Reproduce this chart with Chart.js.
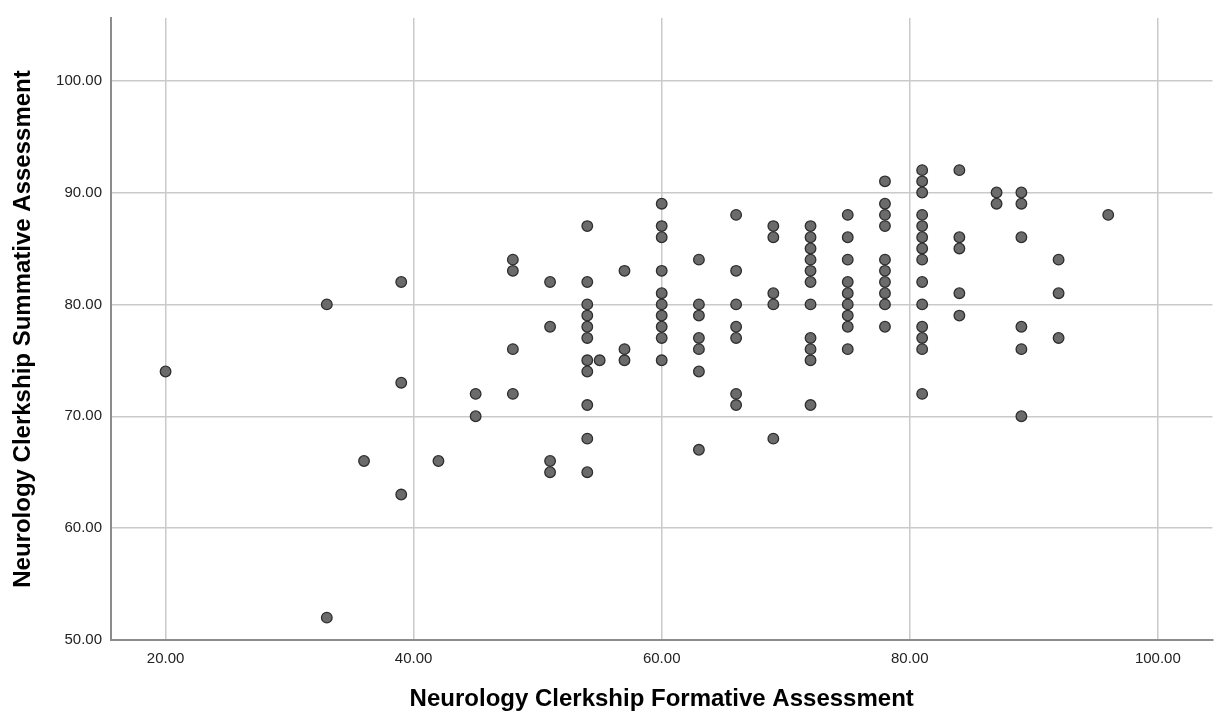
<!DOCTYPE html>
<html>
<head>
<meta charset="utf-8">
<script src="https://cdn.jsdelivr.net/npm/chart.js@4"></script>
<style>
    html, body { margin: 0; padding: 0; background: #ffffff; }
    #wrap { width: 1219px; height: 717px; position: relative; }
</style>
</head>
<body>
<div id="wrap"><canvas id="scatterChart"></canvas></div>
<script>
// formative score (x) and summative score (y), one entry per student
const formativeScores = [
    20,
    33, 33,
    36,
    39, 39, 39,
    42,
    45, 45,
    48, 48, 48, 48,
    51, 51, 51, 51,
    54, 54, 54, 54, 54, 54, 54, 54, 54, 54, 54,
    55,
    57, 57, 57,
    60, 60, 60, 60, 60, 60, 60, 60, 60, 60,
    63, 63, 63, 63, 63, 63, 63,
    66, 66, 66, 66, 66, 66, 66,
    69, 69, 69, 69, 69,
    72, 72, 72, 72, 72, 72, 72, 72, 72, 72, 72,
    75, 75, 75, 75, 75, 75, 75, 75, 75,
    78, 78, 78, 78, 78, 78, 78, 78, 78, 78,
    81, 81, 81, 81, 81, 81, 81, 81, 81, 81, 81, 81, 81, 81,
    84, 84, 84, 84, 84,
    87, 87,
    89, 89, 89, 89, 89, 89,
    92, 92, 92,
    96
];
const summativeScores = [
    74,
    80, 52,
    66,
    82, 73, 63,
    66,
    72, 70,
    84, 83, 76, 72,
    82, 78, 66, 65,
    87, 82, 80, 79, 78, 77, 75, 74, 71, 68, 65,
    75,
    83, 76, 75,
    89, 87, 86, 83, 81, 80, 79, 78, 77, 75,
    84, 80, 79, 77, 76, 74, 67,
    88, 83, 80, 78, 77, 72, 71,
    87, 86, 81, 80, 68,
    87, 86, 85, 84, 83, 82, 80, 77, 76, 75, 71,
    88, 86, 84, 82, 81, 80, 79, 78, 76,
    91, 89, 88, 87, 84, 83, 82, 81, 80, 78,
    92, 91, 90, 88, 87, 86, 85, 84, 82, 80, 78, 77, 76, 72,
    92, 86, 85, 81, 79,
    90, 89,
    90, 89, 86, 78, 76, 70,
    84, 81, 77,
    88
];

const xTicks = [20, 40, 60, 80, 100];
const yTicks = [50, 60, 70, 80, 90, 100];

const xTitle = 'Neurology Clerkship Formative Assessment';
const yTitle = 'Neurology Clerkship Summative Assessment';

let points = [];
for (let i = 0; i < formativeScores.length; i++) {
    points.push({x: formativeScores[i], y: summativeScores[i]});
}

const fontFamily = '"Liberation Sans", Arial, sans-serif';

window.config = {
    type: 'scatter',
    data: {
        datasets: [{
            data: points,
            backgroundColor: '#6b6b6b',
            borderColor: '#2e2e2e',
            borderWidth: 1.3,
            pointRadius: 5.3,
            pointHoverRadius: 5.3,
        }]
    },
    options: {
        responsive: true,
        maintainAspectRatio: false,
        animation: false,
        layout: {
            padding: {top: 6, right: 0, bottom: 0, left: 0}
        },
        plugins: {
            legend: { display: false },
            tooltip: { enabled: false },
        },
        scales: {
            x: {
                type: 'linear',
                min: 15.6,
                max: 104.4,
                afterBuildTicks: (scale) => { scale.ticks = xTicks.map(v => ({value: v})); },
                afterFit: (scale) => { scale.height = 77; },
                grid: {
                    color: '#cacaca',
                    lineWidth: 1.5,
                    drawTicks: false,
                },
                border: { display: true, color: '#8c8c8c', width: 2 },
                ticks: {
                    padding: 10,
                    color: '#222222',
                    font: { family: fontFamily, size: 15 },
                    callback: (v) => Number(v).toFixed(2),
                },
                title: {
                    display: true,
                    text: xTitle,
                    color: '#000000',
                    font: { family: fontFamily, size: 24, weight: 'bold' },
                    padding: { top: 3, bottom: 3 },
                },
            },
            y: {
                type: 'linear',
                min: 50,
                max: 105.6,
                afterBuildTicks: (scale) => { scale.ticks = yTicks.map(v => ({value: v})); },
                afterFit: (scale) => { scale.width = 111; },
                grid: {
                    color: '#cacaca',
                    lineWidth: 1.5,
                    drawTicks: false,
                },
                border: { display: true, color: '#8c8c8c', width: 2 },
                ticks: {
                    padding: 9,
                    color: '#222222',
                    font: { family: fontFamily, size: 15 },
                    callback: (v) => Number(v).toFixed(2),
                },
                title: {
                    display: true,
                    text: yTitle,
                    color: '#000000',
                    font: { family: fontFamily, size: 24, weight: 'bold' },
                    padding: { top: 8.5, bottom: 3 },
                },
            },
        },
    },
};

const ctx = document.getElementById('scatterChart').getContext('2d');
window.chart = new Chart(ctx, window.config);
</script>
</body>
</html>
